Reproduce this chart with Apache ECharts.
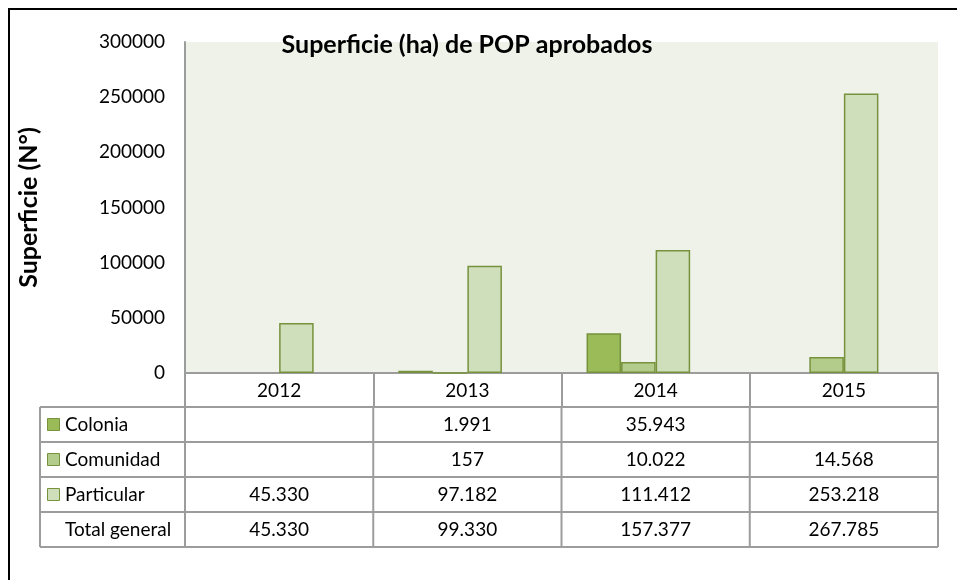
<!DOCTYPE html>
<html>
<head>
<meta charset="utf-8">
<script src="https://cdn.jsdelivr.net/npm/echarts@6/dist/echarts.min.js"></script>
<style>
html,body{margin:0;padding:0;background:#fff;}
#chart{width:957px;height:580px;}
</style>
</head>
<body>
<div id="chart"></div>
<script>
const categories = ['2012', '2013', '2014', '2015'];
const seriesNames = ['Colonia', 'Comunidad', 'Particular', 'Total general'];
const colonia = [null, 1991, 35943, null];
const comunidad = [null, 157, 10022, 14568];
const particular = [45330, 97182, 111412, 253218];
const totalGeneral = [45330, 99330, 157377, 267785];
const yTicks = [0, 50000, 100000, 150000, 200000, 250000, 300000];

const FONT = 'Lato, "Open Sans", sans-serif';
const fills = ['#9BBB59', '#B4CC8B', '#D0DFBB'];
const edge = '#76923C';
const gridLine = '#9c9c9c';
const G = {left: 185, right: 19, top: 42, bottom: 207};
const W = 957, H = 580;
const rowH = 35;
const headerH = 34;
const labelColLeft = 40;
const FS = 19;

function fmt(v) {
  if (v === null || v === undefined) return '';
  return String(v).replace(/\B(?=(\d{3})+(?!\d))/g, '.');
}

const chart = echarts.init(document.getElementById('chart'), null, {renderer: 'canvas'});

const seriesData = [colonia, comunidad, particular, totalGeneral];
const series = seriesData.map((d, i) => ({
  name: seriesNames[i],
  type: 'bar',
  data: d,
  barGap: '0%',
  barCategoryGap: '26.6%',
  silent: true,
  itemStyle: i < 3 ? {color: fills[i], borderColor: edge, borderWidth: 1.5} : {color: 'rgba(0,0,0,0)', borderWidth: 0}
}));

chart.setOption({
  animation: false,
  backgroundColor: '#fff',
  title: {
    text: 'Superficie (ha) de POP aprobados',
    left: 462, top: 27, textAlign: 'center',
    textStyle: {fontFamily: FONT, fontWeight: 'bold', fontSize: 25, color: '#000'}
  },
  grid: {left: G.left, right: G.right, top: G.top, bottom: G.bottom, show: true, backgroundColor: '#EEF2E8', borderWidth: 0},
  xAxis: {
    type: 'category',
    data: categories,
    axisLine: {lineStyle: {color: gridLine, width: 2}},
    axisTick: {show: true, length: headerH, lineStyle: {color: gridLine, width: 2}},
    axisLabel: {fontFamily: FONT, fontSize: FS, color: '#000', margin: 8}
  },
  yAxis: {
    type: 'value',
    min: yTicks[0], max: yTicks[yTicks.length - 1], interval: yTicks[1] - yTicks[0],
    name: 'Superficie (N°)',
    nameLocation: 'middle',
    nameGap: 144,
    nameTextStyle: {fontFamily: FONT, fontWeight: 'bold', fontSize: 25, color: '#000'},
    axisLine: {show: true, lineStyle: {color: gridLine, width: 2}},
    axisTick: {show: false},
    splitLine: {show: false},
    axisLabel: {fontFamily: FONT, fontSize: FS, color: '#000', margin: 20, formatter: v => String(v)}
  },
  series: series
});

// Build data table below the axis, positioned from the axis scale
const x0 = chart.convertToPixel({xAxisIndex: 0}, categories[0]);
const x1 = chart.convertToPixel({xAxisIndex: 0}, categories[1]);
const band = x1 - x0;
const centers = categories.map(c => chart.convertToPixel({xAxisIndex: 0}, c));
const axisY = chart.convertToPixel({yAxisIndex: 0}, 0);
const tableTop = axisY + headerH;
const rowsData = [colonia, comunidad, particular, totalGeneral];
const nRows = rowsData.length;
const tableRight = centers[centers.length - 1] + band / 2;

const g = [];
// outer chart frame
g.push({type: 'rect', shape: {x: 9, y: 9, width: W + 10, height: H + 10}, style: {fill: 'none', stroke: '#000', lineWidth: 2}, silent: true});
// horizontal lines
for (let r = 0; r <= nRows; r++) {
  const y = tableTop + r * rowH;
  g.push({type: 'line', shape: {x1: labelColLeft, y1: y, x2: tableRight, y2: y}, style: {stroke: gridLine, lineWidth: 2}, silent: true});
}
// vertical lines
const vxs = [labelColLeft].concat(centers.map(c => c - band / 2)).concat([tableRight]);
vxs.forEach(x => {
  g.push({type: 'line', shape: {x1: x, y1: tableTop, x2: x, y2: tableTop + nRows * rowH}, style: {stroke: gridLine, lineWidth: 2}, silent: true});
});
// row labels, keys and values
rowsData.forEach((row, r) => {
  const cy = tableTop + r * rowH + rowH / 2;
  if (r < 3) {
    g.push({type: 'rect', shape: {x: 47.5, y: cy - 6, width: 12, height: 12}, style: {fill: fills[r], stroke: edge, lineWidth: 1}, silent: true});
  }
  g.push({type: 'text', style: {x: 65, y: cy, text: seriesNames[r], fontFamily: FONT, fontSize: FS, fill: '#000', textVerticalAlign: 'middle', textAlign: 'left'}, silent: true});
  row.forEach((v, c) => {
    g.push({type: 'text', style: {x: centers[c], y: cy, text: fmt(v), fontFamily: FONT, fontSize: FS, fill: '#000', textVerticalAlign: 'middle', textAlign: 'center'}, silent: true});
  });
});

chart.setOption({graphic: {elements: g}});
</script>
</body>
</html>
